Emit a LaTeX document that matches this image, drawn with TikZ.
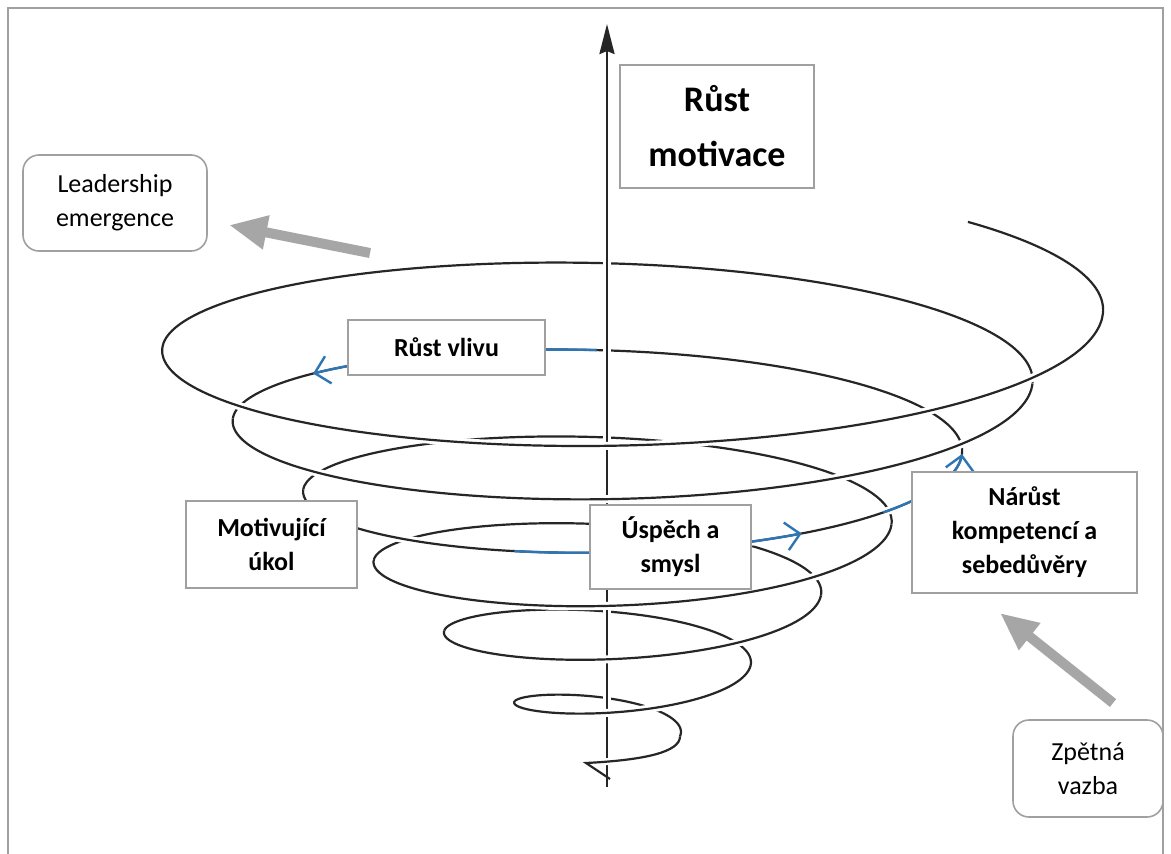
\documentclass[tikz,border=0pt]{standalone}
\usepackage{fontspec}
\setmainfont{Carlito}
\usetikzlibrary{arrows.meta}

\definecolor{spiralblue}{RGB}{46,117,182}
\definecolor{boxgray}{RGB}{160,160,160}
\definecolor{arrowgray}{RGB}{166,166,166}

% conical spiral: radius, centre height and depth of each turn n
\pgfmathdeclarefunction{sprr}{1}{\pgfmathparse{65+70.5*#1}}
\pgfmathdeclarefunction{spryc}{1}{\pgfmathparse{736.4-70.6*#1}}
\newcommand{\sprx}[1]{615+sprr(#1)*cos(360*#1)}
\newcommand{\spryb}[1]{spryc(#1)-0.235*sprr(#1)*sin(360*#1)}
\newcommand{\spryf}[1]{spryc(#1)-0.245*sprr(#1)*sin(360*#1)}

\begin{document}
\begin{tikzpicture}[x=1pt, y=-1pt,
        spiral/.style={draw=black!85, line width=2.2pt},
        halo/.style={draw=white, line width=8pt},
        flow/.style={draw=spiralblue, line width=2.4pt, -{Straight Barb[length=14pt,width=28pt]}},
        stagebox/.style={rectangle, draw=boxgray, line width=2.5pt, fill=white, align=center, inner sep=0pt,
            font=\fontsize{26}{34}\selectfont\bfseries},
        notebox/.style={rectangle, rounded corners=16pt, draw=boxgray, line width=1.6pt, fill=white, align=center,
            inner sep=0pt, font=\fontsize{26}{34}\selectfont},
        bigarrow/.style={draw=arrowgray, line width=10pt, -{Triangle[length=38pt,width=32pt]}}
    ]
    \fill[white] (0,0) rectangle (1171,854);
    \useasboundingbox (0,0) rectangle (1171,854);

    % back halves of the turns
    \foreach \k/\e in {0/0.5,1/1.5,2/2.5,3/3.5,4/4.5,5/5.5,6/6.125}
        \draw[spiral] plot[variable=\t, domain=\k:\e, samples=60, smooth] ({\sprx{\t}}, {\spryb{\t}});

    % growth axis
    \coordinate (axisbot) at (607,787);
    \coordinate (axistop) at (607,24);
    \draw[halo] (axisbot) -- (axistop);
    \draw[line width=2.6pt, black!85, -{Stealth[length=30pt,width=15pt,inset=3pt]}] (axisbot) -- (axistop);

    % tip of the spiral
    \coordinate (tipstart) at (610,779);
    \coordinate (tipturn) at (586,763);
    \draw[halo, line width=7pt] (tipturn) .. controls (640,760) and (680,754) .. (680,742);
    \draw[spiral, line join=miter] (tipstart) -- (tipturn) .. controls (645,760) and (680,752) .. (680,736.4);

    % front halves
    \foreach \k in {0,...,5} {
        \draw[halo] plot[variable=\t, domain=\k+0.56:\k+0.94, samples=40, smooth] ({\sprx{\t}}, {\spryf{\t}});
        \draw[spiral] plot[variable=\t, domain=\k+0.5:\k+1, samples=60, smooth] ({\sprx{\t}}, {\spryf{\t}});
    }

    % blue parts of the path
    \draw[flow] plot[variable=\t, domain=4.258:4.399, samples=20, smooth] ({\sprx{\t}}, {\spryb{\t}});
    \draw[flow] plot[variable=\t, domain=3.70:3.844, samples=20, smooth] ({\sprx{\t}}, {\spryf{\t}});
    \draw[flow] plot[variable=\t, domain=3.895:4.0, samples=20, smooth] ({\sprx{\t}}, {\spryf{\t}});

    % stages
    \node[stagebox, minimum width=194pt, minimum height=123pt, font=\fontsize{36}{55}\selectfont\bfseries] (motivace) at (717,126.5) {Růst\\motivace};
    \node[stagebox, minimum width=197pt, minimum height=55pt] (vliv) at (446.5,347.5) {Růst vlivu};
    \node[stagebox, minimum width=171pt, minimum height=87pt] (ukol) at (271.5,544.5) {Motivující\\úkol};
    \node[stagebox, minimum width=161pt, minimum height=84pt] (uspech) at (670.5,547) {Úspěch a\\smysl};
    \node[stagebox, minimum width=225pt, minimum height=121pt] (narust) at (1024.5,532.5) {Nárůst\\kompetencí a\\sebedůvěry};
    \node[notebox, minimum width=184pt, minimum height=96pt] (leader) at (115,203) {Leadership\\emergence};
    \node[notebox, minimum width=150pt, minimum height=97pt] (zpetna) at (1088,768.5) {Zpětná\\vazba};

    % outside influences
    \coordinate (leadtail) at (370,253);
    \coordinate (leadhead) at (229,225);
    \draw[bigarrow] (leadtail) -- (leadhead);
    \coordinate (zpettail) at (1113,703);
    \coordinate (zpethead) at (1000,613);
    \draw[bigarrow] (zpettail) -- (zpethead);

    % frame
    \draw[boxgray, line width=1.5pt] (8,854) -- (8,8) -- (1163,8) -- (1163,854);
\end{tikzpicture}
\end{document}
